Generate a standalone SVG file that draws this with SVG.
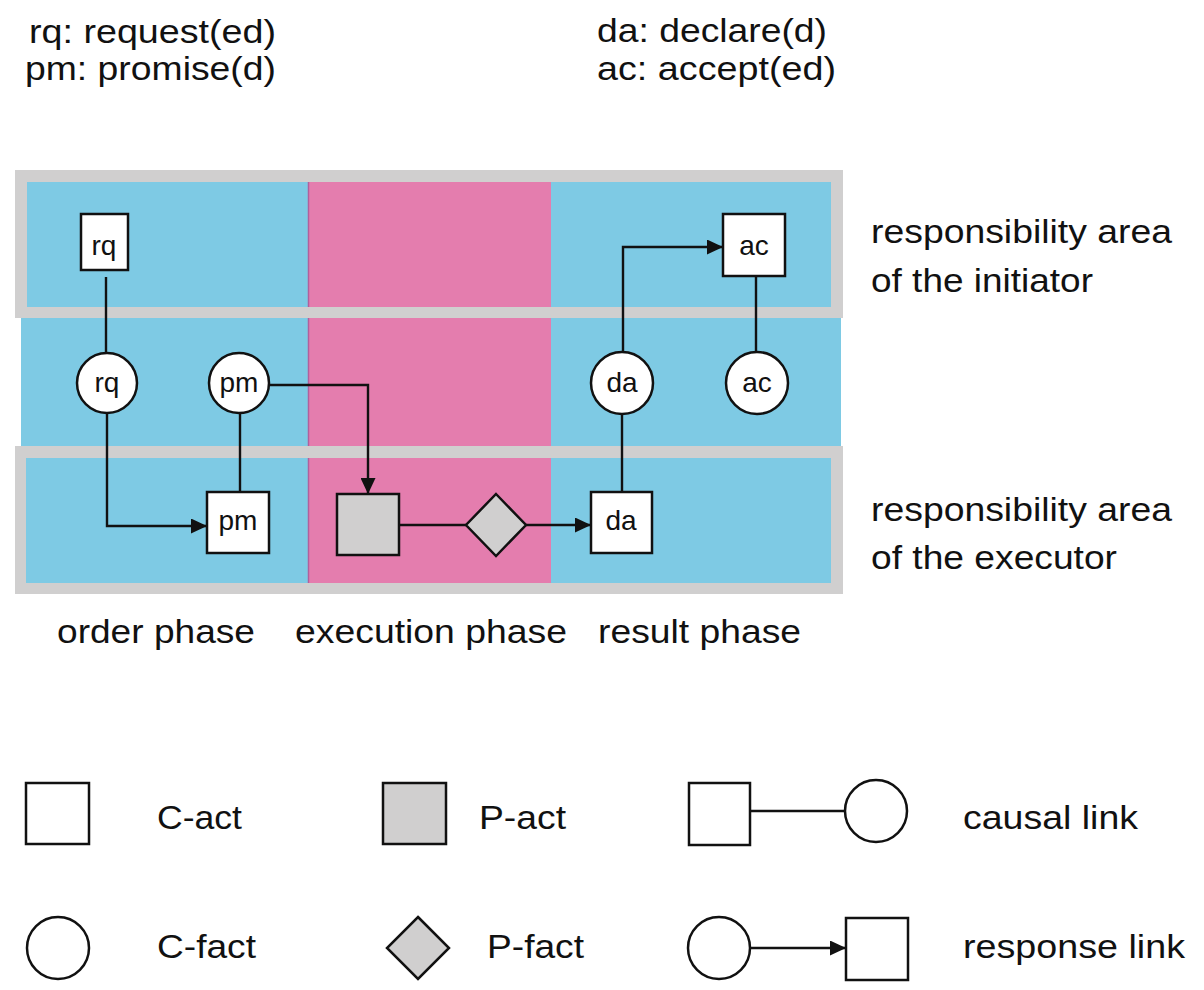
<svg xmlns="http://www.w3.org/2000/svg" width="1204" height="990" viewBox="0 0 1204 990">
<style>
text{font-family:"Liberation Sans",Arial,Helvetica,sans-serif;fill:#111}
.big{font-size:33px}
.lbl{font-size:28px;text-anchor:middle}
.act{fill:#fff;stroke:#111;stroke-width:2.5}
.pact{fill:#d0cfcf;stroke:#111;stroke-width:2.5}
.fact{fill:#fff;stroke:#111;stroke-width:2.5}
.con{fill:none;stroke:#111;stroke-width:2.4}
.gray{fill:#d0cfcf}
.blue{fill:#7ecae4}
.pink{fill:#e47dae}
</style>
<defs>
<marker id="arr" markerUnits="userSpaceOnUse" markerWidth="17" markerHeight="15" refX="16" refY="7.5" orient="auto">
<path d="M0,0 L16,7.5 L0,15 Z" fill="#111"/>
</marker>
</defs>
<g id="legend-top">
<text class="big" x="29" y="43" textLength="247" lengthAdjust="spacingAndGlyphs">rq: request(ed)</text>
<text class="big" x="25" y="80" textLength="251" lengthAdjust="spacingAndGlyphs">pm: promise(d)</text>
<text class="big" x="597" y="42" textLength="230" lengthAdjust="spacingAndGlyphs">da: declare(d)</text>
<text class="big" x="597" y="80" textLength="239" lengthAdjust="spacingAndGlyphs">ac: accept(ed)</text>
</g>
<g id="bands">
<rect class="gray" x="15" y="170" width="828" height="148"/>
<rect class="blue" x="27" y="182" width="804" height="125"/>
<rect class="blue" x="21" y="318" width="820" height="128"/>
<rect class="gray" x="15" y="446" width="828" height="148"/>
<rect class="blue" x="26" y="458" width="805" height="125"/>
<rect class="pink" x="308" y="182" width="243" height="125"/>
<rect class="pink" x="308" y="318" width="243" height="128"/>
<rect class="pink" x="308" y="458" width="243" height="125"/>
<g stroke="#b0609c" stroke-width="1.5">
<line x1="308.5" y1="182" x2="308.5" y2="307"/>
<line x1="308.5" y1="318" x2="308.5" y2="446"/>
<line x1="308.5" y1="458" x2="308.5" y2="583"/>
</g>
</g>
<g id="connectors">
<line class="con" x1="106" y1="277" x2="106" y2="353"/>
<polyline class="con" points="107,414 107,526 207,526" marker-end="url(#arr)"/>
<line class="con" x1="240" y1="414" x2="240" y2="492"/>
<polyline class="con" points="270,385 368,385 368,494" marker-end="url(#arr)"/>
<line class="con" x1="399" y1="525" x2="466" y2="525"/>
<line class="con" x1="526" y1="525" x2="591" y2="525" marker-end="url(#arr)"/>
<line class="con" x1="622" y1="414" x2="622" y2="492"/>
<polyline class="con" points="623,352 623,247 723,247" marker-end="url(#arr)"/>
<line class="con" x1="756" y1="276" x2="756" y2="352"/>
</g>
<g id="rq-act"><rect class="act" x="81" y="214" width="47" height="56"/><text class="lbl" x="104" y="255">rq</text></g>
<g id="rq-fact"><circle class="fact" cx="107" cy="383" r="30"/><text class="lbl" x="107" y="392">rq</text></g>
<g id="pm-fact"><circle class="fact" cx="239" cy="383" r="30"/><text class="lbl" x="239" y="392">pm</text></g>
<g id="pm-act"><rect class="act" x="207" y="492" width="62" height="61"/><text class="lbl" x="238" y="530">pm</text></g>
<g id="p-act"><rect class="pact" x="337" y="494" width="62" height="61"/></g>
<g id="p-fact"><polygon class="pact" points="496,494 526,525 496,556 466,525"/></g>
<g id="da-act"><rect class="act" x="591" y="492" width="61" height="61"/><text class="lbl" x="621" y="530">da</text></g>
<g id="da-fact"><circle class="fact" cx="622" cy="383" r="31"/><text class="lbl" x="622" y="392">da</text></g>
<g id="ac-fact"><circle class="fact" cx="757" cy="383" r="31"/><text class="lbl" x="757" y="392">ac</text></g>
<g id="ac-act"><rect class="act" x="723" y="214" width="62" height="62"/><text class="lbl" x="754" y="255">ac</text></g>
<g id="area-labels">
<text class="big" x="871" y="243" textLength="301" lengthAdjust="spacingAndGlyphs">responsibility area</text>
<text class="big" x="871" y="292" textLength="222" lengthAdjust="spacingAndGlyphs">of the initiator</text>
<text class="big" x="871" y="521" textLength="301" lengthAdjust="spacingAndGlyphs">responsibility area</text>
<text class="big" x="871" y="569" textLength="246" lengthAdjust="spacingAndGlyphs">of the executor</text>
</g>
<g id="phase-labels">
<text class="big" x="57" y="643" textLength="198" lengthAdjust="spacingAndGlyphs">order phase</text>
<text class="big" x="295" y="643" textLength="272" lengthAdjust="spacingAndGlyphs">execution phase</text>
<text class="big" x="598" y="643" textLength="203" lengthAdjust="spacingAndGlyphs">result phase</text>
</g>
<g id="legend">
<rect class="act" x="26" y="783" width="63" height="61"/>
<text class="big" x="157" y="829" textLength="85" lengthAdjust="spacingAndGlyphs">C-act</text>
<rect class="pact" x="383" y="783" width="63" height="61"/>
<text class="big" x="479" y="829" textLength="87" lengthAdjust="spacingAndGlyphs">P-act</text>
<circle class="fact" cx="58" cy="948" r="31"/>
<text class="big" x="157" y="958" textLength="99" lengthAdjust="spacingAndGlyphs">C-fact</text>
<polygon class="pact" points="418,917 449,948 418,979 387,948"/>
<text class="big" x="487" y="958" textLength="97" lengthAdjust="spacingAndGlyphs">P-fact</text>
<rect class="act" x="689" y="783" width="61" height="62"/>
<line class="con" x1="750" y1="811" x2="845" y2="811"/>
<circle class="fact" cx="876" cy="811" r="31"/>
<text class="big" x="963" y="829" textLength="175" lengthAdjust="spacingAndGlyphs">causal link</text>
<circle class="fact" cx="719" cy="948" r="31"/>
<line class="con" x1="750" y1="948" x2="846" y2="948" marker-end="url(#arr)"/>
<rect class="act" x="846" y="918" width="62" height="62"/>
<text class="big" x="963" y="958" textLength="222" lengthAdjust="spacingAndGlyphs">response link</text>
</g>
</svg>
